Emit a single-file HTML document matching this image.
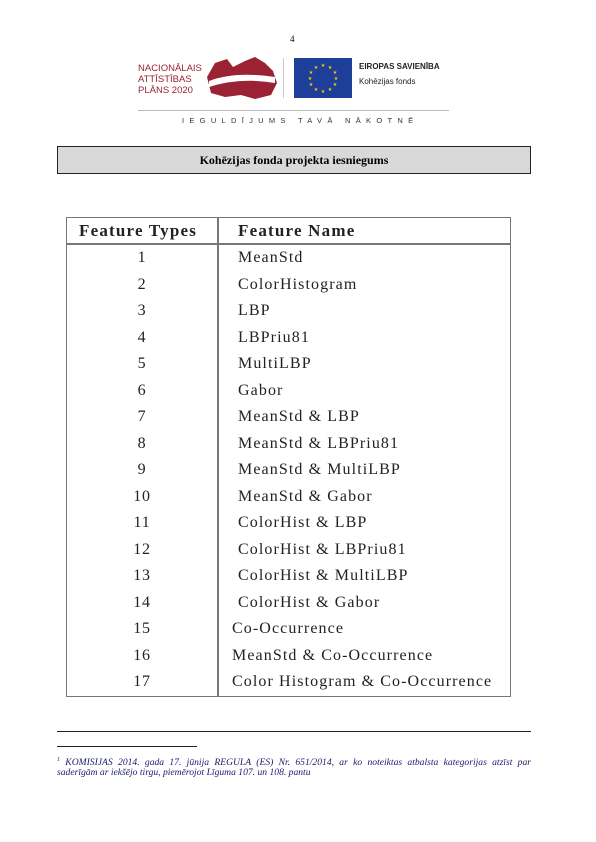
<!DOCTYPE html>
<html><head><meta charset="utf-8"><style>
body{margin:0;width:596px;height:842px;background:#fff;position:relative;overflow:hidden;font-family:"Liberation Serif",serif}
.a{position:absolute;white-space:nowrap}
.n{position:absolute;left:100px;width:84px;text-align:center;font-size:16px;letter-spacing:.8px;color:#222}
.f{position:absolute;left:238px;font-size:16px;letter-spacing:1.1px;color:#222;white-space:nowrap}
</style></head><body>
<div class="a" style="left:290px;top:34px;font-size:9px">4</div>
<div class="a" style="left:138px;top:63px;font-family:'Liberation Sans',sans-serif;font-size:9.5px;line-height:11px;color:#9b2233">NACIONĀLAIS<br>ATTĪSTĪBAS<br>PLĀNS 2020</div>
<svg class="a" style="left:205px;top:55px" width="75" height="45" viewBox="0 0 75 45">
<path d="M2 22 L10 8 L22 4 L28 12 L40 6 L50 2 L60 8 L68 16 L72 28 L66 40 L50 44 L36 40 L20 42 L6 38 Z" fill="#9b2233"/>
<path d="M4 26 Q30 16 70 22 L70 28 Q35 22 4 32 Z" fill="#fff"/>
</svg>
<div class="a" style="left:283px;top:58px;width:1px;height:40px;background:#ccc"></div>
<svg class="a" style="left:294px;top:58px" width="58" height="40"><rect width="58" height="40" fill="#1d3f9a"/>
<g fill="#fc0" font-size="5" text-anchor="middle">
<text x="29" y="9">★</text><text x="36" y="11">★</text><text x="41" y="16">★</text><text x="42" y="22">★</text><text x="41" y="28">★</text><text x="36" y="33">★</text><text x="29" y="35">★</text><text x="22" y="33">★</text><text x="17" y="28">★</text><text x="16" y="22">★</text><text x="17" y="16">★</text><text x="22" y="11">★</text></g></svg>
<div class="a" style="left:359px;top:62px;font-family:'Liberation Sans',sans-serif;font-size:8px;font-weight:bold;color:#222">EIROPAS SAVIENĪBA</div>
<div class="a" style="left:359px;top:77px;font-family:'Liberation Sans',sans-serif;font-size:8px;color:#222">Kohēzijas fonds</div>
<div class="a" style="left:138px;top:110px;width:311px;height:1px;background:#bbb"></div>
<div class="a" style="left:182px;top:116px;font-family:'Liberation Sans',sans-serif;font-size:7.5px;letter-spacing:5.3px;color:#333">IEGULDĪJUMS TAVĀ NĀKOTNĒ</div>
<div class="a" style="left:57px;top:146px;width:472px;height:26px;background:#d9d9d9;border:1px solid #222;text-align:center;line-height:26px;font-size:12px;font-weight:bold">Kohēzijas fonda projekta iesniegums</div>
<div class="a" style="left:66px;top:217px;width:443px;height:478px;border:1.5px solid #777"></div>
<div class="a" style="left:66px;top:243px;width:445px;height:1.5px;background:#777"></div>
<div class="a" style="left:217px;top:217px;width:1.5px;height:480px;background:#777"></div>
<div class="a" style="left:79px;top:221px;font-size:17px;font-weight:bold;letter-spacing:1.2px;color:#222">Feature Types</div>
<div class="a" style="left:238px;top:221px;font-size:17px;font-weight:bold;letter-spacing:1.2px;color:#222">Feature Name</div>
<div class="n" style="top:249px">1</div><div class="f" style="top:249px">MeanStd</div>
<div class="n" style="top:276px">2</div><div class="f" style="top:276px">ColorHistogram</div>
<div class="n" style="top:302px">3</div><div class="f" style="top:302px">LBP</div>
<div class="n" style="top:329px">4</div><div class="f" style="top:329px">LBPriu81</div>
<div class="n" style="top:355px">5</div><div class="f" style="top:355px">MultiLBP</div>
<div class="n" style="top:382px">6</div><div class="f" style="top:382px">Gabor</div>
<div class="n" style="top:408px">7</div><div class="f" style="top:408px">MeanStd &amp; LBP</div>
<div class="n" style="top:435px">8</div><div class="f" style="top:435px">MeanStd &amp; LBPriu81</div>
<div class="n" style="top:461px">9</div><div class="f" style="top:461px">MeanStd &amp; MultiLBP</div>
<div class="n" style="top:488px">10</div><div class="f" style="top:488px">MeanStd &amp; Gabor</div>
<div class="n" style="top:514px">11</div><div class="f" style="top:514px">ColorHist &amp; LBP</div>
<div class="n" style="top:541px">12</div><div class="f" style="top:541px">ColorHist &amp; LBPriu81</div>
<div class="n" style="top:567px">13</div><div class="f" style="top:567px">ColorHist &amp; MultiLBP</div>
<div class="n" style="top:594px">14</div><div class="f" style="top:594px">ColorHist &amp; Gabor</div>
<div class="n" style="top:620px">15</div><div class="f" style="top:620px;left:232px">Co-Occurrence</div>
<div class="n" style="top:647px">16</div><div class="f" style="top:647px;left:232px">MeanStd &amp; Co-Occurrence</div>
<div class="n" style="top:673px">17</div><div class="f" style="top:673px;left:232px">Color Histogram &amp; Co-Occurrence</div>
<div class="a" style="left:57px;top:731px;width:474px;height:1px;background:#222"></div>
<div class="a" style="left:57px;top:746px;width:140px;height:1px;background:#222"></div>
<div class="a" style="left:57px;top:754px;width:474px;font-size:9.6px;font-style:italic;color:#1a1a6e;line-height:12px;white-space:normal;text-align:justify;text-align-last:justify"><sup style="font-size:6px">1</sup> KOMISIJAS 2014. gada 17. jūnija REGULA (ES) Nr. 651/2014, ar ko noteiktas atbalsta kategorijas atzīst par</div>
<div class="a" style="left:57px;top:767px;font-size:9.6px;font-style:italic;color:#1a1a6e;line-height:12px">saderīgām ar iekšējo tirgu, piemērojot Līguma 107. un 108. pantu</div>
</body></html>
